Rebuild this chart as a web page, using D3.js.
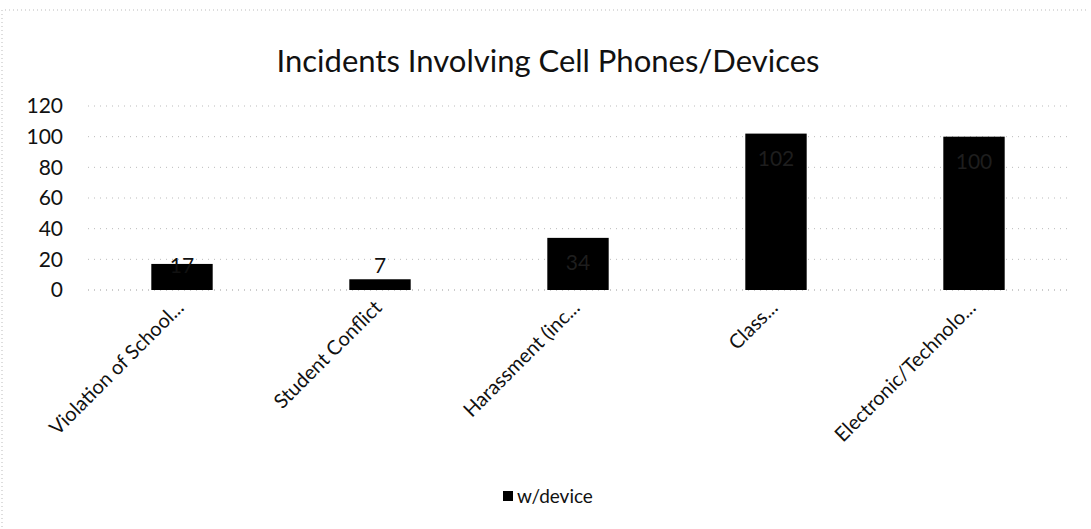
<!doctype html>
<html>
<head>
<meta charset="utf-8"/>
<title>Incidents Involving Cell Phones/Devices</title>
<script src="https://d3js.org/d3.v7.min.js"></script>
<style>
  body { margin: 0; background: #fff; }
  text { font-family: Lato, "Open Sans", sans-serif; fill: #111; }
</style>
</head>
<body>
<div id="chart"></div>
<script>
// data
var categories = ["Violation of School...", "Student Conflict", "Harassment (inc...", "Class...", "Electronic/Technolo..."];
var values = [17, 7, 34, 102, 100];
var yTicks = [0, 20, 40, 60, 80, 100, 120];
var seriesName = "w/device";

var W = 1091, H = 529;
var svg = d3.select("#chart").append("svg")
    .attr("width", W)
    .attr("height", H);

// faint chart frame (only left and top show in the scan)
svg.append("path")
    .attr("d", "M2," + (H - 2) + "V10H" + (W - 4))
    .attr("fill", "none")
    .attr("stroke", "#bbb")
    .attr("stroke-dasharray", "1,3");

var x = d3.scaleBand()
    .domain(categories)
    .range([83, 1073])
    .paddingInner(0.69)
    .paddingOuter(0.345);

var y = d3.scaleLinear()
    .domain([0, 120])
    .range([290, 106]);

// title
svg.append("text")
    .attr("x", 548).attr("y", 72)
    .attr("text-anchor", "middle")
    .style("font-size", "31px")
    .text("Incidents Involving Cell Phones/Devices");

// gridlines
svg.append("g").selectAll("line")
    .data(yTicks)
    .enter().append("line")
    .attr("x1", 88).attr("x2", 1068)
    .attr("y1", function(d){ return y(d); })
    .attr("y2", function(d){ return y(d); })
    .attr("stroke", function(d){ return d == 0 ? "#999" : "#bbb"; })
    .attr("stroke-dasharray", "1,5");

// y axis labels
var yAxis = d3.axisLeft(y).tickValues(yTicks).tickSize(0).tickPadding(0);
var gy = svg.append("g").attr("transform", "translate(63,0)").call(yAxis);
gy.select(".domain").remove();
gy.selectAll("text").style("font-size", "21px").attr("fill", "#111");

// bars
svg.append("g").selectAll("rect")
    .data(values)
    .enter().append("rect")
    .attr("x", function(d, i){ return x(categories[i]); })
    .attr("y", function(d){ return y(d); })
    .attr("width", x.bandwidth())
    .attr("height", function(d){ return y(0) - y(d); })
    .attr("fill", "#000");

// data labels
svg.append("g").selectAll("text")
    .data(values)
    .enter().append("text")
    .attr("x", function(d, i){ return x(categories[i]) + x.bandwidth() / 2; })
    .attr("y", function(d){ return Math.min(y(d) + 32, 273); })
    .attr("text-anchor", "middle")
    .style("font-size", "21px")
    .style("fill", function(d){ return d < 20 ? "#111" : "#1e1e1e"; })
    .text(function(d){ return d; });

// x labels, rotated
var xAxis = d3.axisBottom(x).tickSize(0).tickPadding(0);
var gx = svg.append("g").attr("transform", "translate(0,296)").call(xAxis);
gx.select(".domain").remove();
gx.selectAll("text")
    .style("font-size", "20px")
    .attr("text-anchor", "end")
    .attr("y", 0)
    .attr("dy", "0")
    .attr("transform", "translate(3,13) rotate(-45)");

// legend
svg.append("rect")
    .attr("x", 503).attr("y", 491)
    .attr("width", 10).attr("height", 10)
    .attr("fill", "#000");
svg.append("text")
    .attr("x", 517).attr("y", 503)
    .style("font-size", "19px")
    .text(seriesName);
</script>
</body>
</html>
